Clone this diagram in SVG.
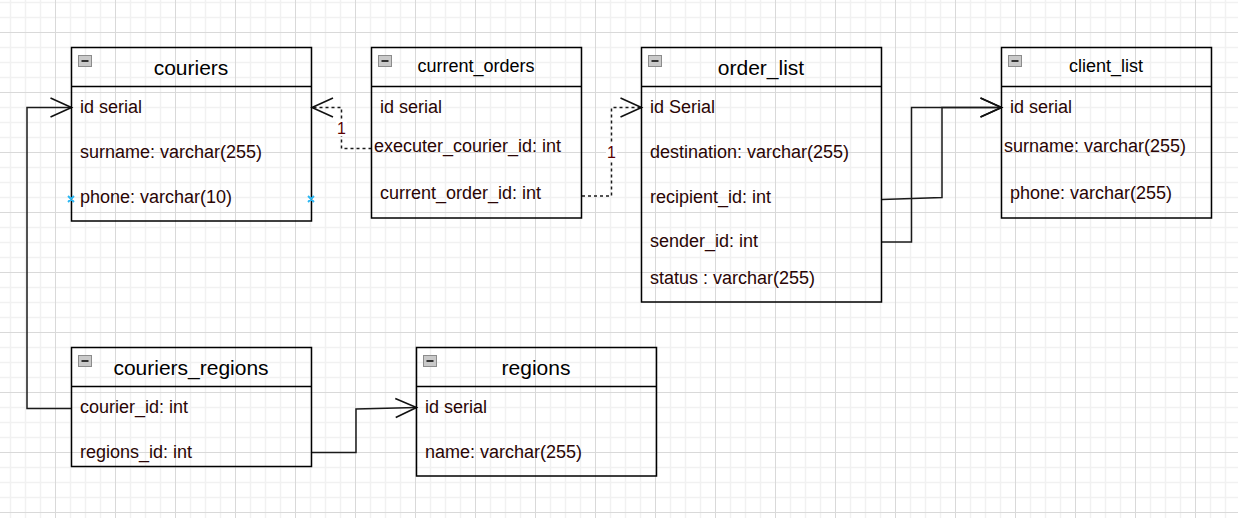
<svg xmlns="http://www.w3.org/2000/svg" width="1238" height="518" viewBox="0 0 1238 518">
<defs>
<pattern id="grid" x="55" y="32" width="60" height="60" patternUnits="userSpaceOnUse">
<path d="M15.5,0V60M30.5,0V60M45.5,0V60M0,15.5H60M0,30.5H60M0,45.5H60" stroke="#f1f1f1" stroke-width="1.5" fill="none"/>
<path d="M0.5,0V60M0,0.5H60" stroke="#d9d9d9" stroke-width="1" fill="none"/>
</pattern>
<marker id="open" markerUnits="userSpaceOnUse" markerWidth="24" markerHeight="24" refX="21" refY="10" orient="auto" overflow="visible">
<path d="M0,0.5 L21,10 L0,19.5" fill="none" stroke="#111" stroke-width="1.6"/>
</marker>
</defs>
<style>
.box{fill:none;stroke:#000;stroke-width:1.5}
.sep{stroke:#000;stroke-width:1.5}
.ico{fill:#c9c9c9;stroke:#8c8c8c;stroke-width:1}
.icm{stroke:#333;stroke-width:2}
.t21{font-family:"Liberation Sans",Arial,sans-serif;font-size:21px;fill:#000;text-anchor:middle}
.t18{font-family:"Liberation Sans",Arial,sans-serif;font-size:18px;fill:#000;text-anchor:middle}
.f{font-family:"Liberation Sans",Arial,sans-serif;font-size:18px;fill:#2a0505}
.lbl{font-family:"Liberation Sans",Arial,sans-serif;font-size:16px;fill:#5a0000;text-anchor:middle}
.lblbg{fill:#fff}
.ln{fill:none;stroke:#1a1a1a;stroke-width:1.5}
.dash{stroke-dasharray:3 3}
.cx{stroke:#29b6f2;stroke-width:1.8}
</style>
<rect width="1238" height="518" fill="#fff"/>
<rect width="1238" height="518" fill="url(#grid)"/>

<g id="connectors">
<path class="ln" d="M71.5,408.5 H27 V107.5 H71.5" marker-end="url(#open)"/>
<path class="ln dash" d="M371.5,148.5 H341.5 V107.5 H312" marker-end="url(#open)"/>
<path class="ln dash" d="M582,196 H611.5 V107.5 H641.5" marker-end="url(#open)"/>
<path class="ln" d="M882,199.5 L942,197.5 V107.5 H1001.5" marker-end="url(#open)"/>
<path class="ln" d="M882,242 H911.5 V107.5 H1001.5" marker-end="url(#open)"/>
<path class="ln" d="M312,452.5 H356 V409 L416.5,407.5" marker-end="url(#open)"/>
<rect class="lblbg" x="336" y="120" width="11" height="16"/>
<text class="lbl" x="341.5" y="134">1</text>
<rect class="lblbg" x="606" y="144" width="11" height="16"/>
<text class="lbl" x="611.5" y="158">1</text>
</g>

<g id="couriers">
<rect class="box" x="71.5" y="47.5" width="240" height="173.5"/>
<line class="sep" x1="71.5" y1="86.5" x2="311.5" y2="86.5"/>
<rect class="ico" x="78.5" y="55.5" width="13" height="11"/>
<line class="icm" x1="81.5" y1="61" x2="88.5" y2="61"/>
<text class="t21" x="191" y="74.5">couriers</text>
<text class="f" x="80" y="112.5">id serial</text>
<text class="f" x="80" y="158">surname: varchar(255)</text>
<text class="f" x="80" y="203">phone: varchar(10)</text>
<path class="cx" d="M68,196l6,6M74,196l-6,6M308,196l6,6M314,196l-6,6"/>
</g>

<g id="current_orders">
<rect class="box" x="371.5" y="47.5" width="210" height="170.5"/>
<line class="sep" x1="371.5" y1="86.5" x2="581.5" y2="86.5"/>
<rect class="ico" x="378.5" y="55.5" width="13" height="11"/>
<line class="icm" x1="381.5" y1="61" x2="388.5" y2="61"/>
<text class="t18" x="476" y="71.5">current_orders</text>
<text class="f" x="380" y="112.5">id serial</text>
<text class="f" x="374" y="151.5">executer_courier_id: int</text>
<text class="f" x="380" y="199">current_order_id: int</text>
</g>

<g id="order_list">
<rect class="box" x="641.5" y="47.5" width="240" height="254.5"/>
<line class="sep" x1="641.5" y1="86.5" x2="881.5" y2="86.5"/>
<rect class="ico" x="648.5" y="55.5" width="13" height="11"/>
<line class="icm" x1="651.5" y1="61" x2="658.5" y2="61"/>
<text class="t21" x="761" y="74.5">order_list</text>
<text class="f" x="650" y="112.5">id Serial</text>
<text class="f" x="650" y="158">destination: varchar(255)</text>
<text class="f" x="650" y="202.5">recipient_id: int</text>
<text class="f" x="650" y="247">sender_id: int</text>
<text class="f" x="650" y="284">status : varchar(255)</text>
</g>

<g id="client_list">
<rect class="box" x="1001.5" y="47.5" width="210" height="170.5"/>
<line class="sep" x1="1001.5" y1="86.5" x2="1211.5" y2="86.5"/>
<rect class="ico" x="1008.5" y="55.5" width="13" height="11"/>
<line class="icm" x1="1011.5" y1="61" x2="1018.5" y2="61"/>
<text class="t18" x="1106" y="71.5">client_list</text>
<text class="f" x="1010" y="112.5">id serial</text>
<text class="f" x="1004" y="151.5">surname: varchar(255)</text>
<text class="f" x="1010" y="199">phone: varchar(255)</text>
</g>

<g id="couriers_regions">
<rect class="box" x="71.5" y="347.5" width="240" height="119"/>
<line class="sep" x1="71.5" y1="386.5" x2="311.5" y2="386.5"/>
<rect class="ico" x="78.5" y="355.5" width="13" height="11"/>
<line class="icm" x1="81.5" y1="361" x2="88.5" y2="361"/>
<text class="t21" x="191" y="374.5">couriers_regions</text>
<text class="f" x="80" y="412.5">courier_id: int</text>
<text class="f" x="80" y="458">regions_id: int</text>
</g>

<g id="regions">
<rect class="box" x="416.5" y="347.5" width="240" height="128.5"/>
<line class="sep" x1="416.5" y1="386.5" x2="656.5" y2="386.5"/>
<rect class="ico" x="423.5" y="355.5" width="13" height="11"/>
<line class="icm" x1="426.5" y1="361" x2="433.5" y2="361"/>
<text class="t21" x="536" y="374.5">regions</text>
<text class="f" x="425" y="412.5">id serial</text>
<text class="f" x="425" y="458">name: varchar(255)</text>
</g>
</svg>
